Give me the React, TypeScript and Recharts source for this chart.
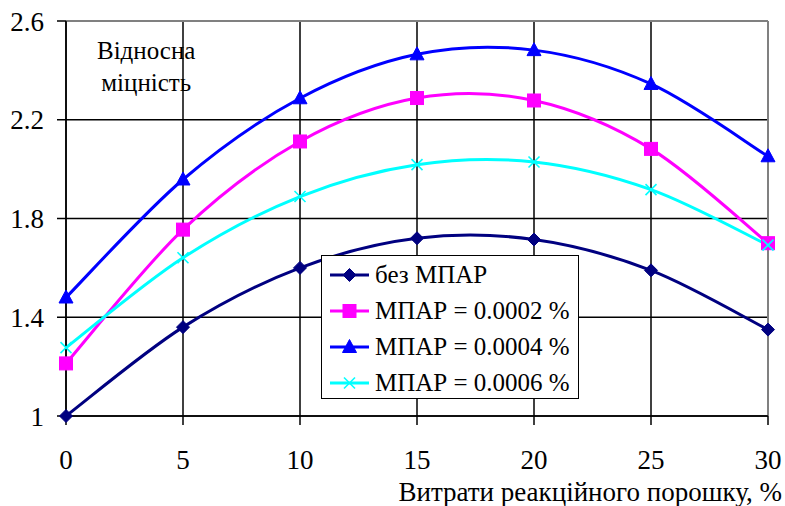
import React from 'react';
import { LineChart, Line, XAxis, YAxis, CartesianGrid, ReferenceLine, Legend } from 'recharts';

const xValues = [0, 5, 10, 15, 20, 25, 30];
const bezMpar = [1.0, 1.36, 1.6, 1.72, 1.715, 1.59, 1.35];
const mpar2 = [1.213, 1.755, 2.112, 2.288, 2.278, 2.082, 1.7];
const mpar4 = [1.48, 1.958, 2.287, 2.465, 2.482, 2.345, 2.052];
const mpar6 = [1.277, 1.641, 1.889, 2.018, 2.029, 1.917, 1.692];
const xTicks = [0, 5, 10, 15, 20, 25, 30];
const yTicks = [1, 1.4, 1.8, 2.2, 2.6];

const seriesNames = ['без МПАР', 'МПАР = 0.0002 %', 'МПАР = 0.0004 %', 'МПАР = 0.0006 %'];
const seriesColors = ['#000080', '#FF00FF', '#0000FF', '#00FFFF'];
const seriesShapes = ['diamond', 'square', 'triangle', 'cross'];

const data = xValues.map((x, i) => ({
  x,
  s0: bezMpar[i],
  s1: mpar2[i],
  s2: mpar4[i],
  s3: mpar6[i],
}));

const FONT = "'Liberation Serif', 'Tinos', 'Times New Roman', Times, 'DejaVu Serif', serif";

// Excel-like smoothed line (Catmull-Rom / Bezier with 1/6 tangents)
function excelCurve(context: any) {
  let xs: number[] = [];
  let ys: number[] = [];
  return {
    areaStart() {},
    areaEnd() {},
    lineStart() {
      xs = [];
      ys = [];
    },
    point(x: number, y: number) {
      xs.push(+x);
      ys.push(+y);
    },
    lineEnd() {
      const n = xs.length;
      if (n === 0) return;
      context.moveTo(xs[0], ys[0]);
      if (n === 1) return;
      for (let i = 0; i < n - 1; i++) {
        const i0 = Math.max(0, i - 1);
        const i3 = Math.min(n - 1, i + 2);
        const c1x = xs[i] + (xs[i + 1] - xs[i0]) / 6;
        const c1y = ys[i] + (ys[i + 1] - ys[i0]) / 6;
        const c2x = xs[i + 1] - (xs[i3] - xs[i]) / 6;
        const c2y = ys[i + 1] - (ys[i3] - ys[i]) / 6;
        context.bezierCurveTo(c1x, c1y, c2x, c2y, xs[i + 1], ys[i + 1]);
      }
    },
  };
}

function Marker({ shape, cx, cy, color }: { shape: string; cx: number; cy: number; color: string }) {
  if (shape === 'diamond') {
    const r = 6.5;
    return <polygon points={`${cx},${cy - r} ${cx + r},${cy} ${cx},${cy + r} ${cx - r},${cy}`} fill={color} stroke={color} strokeWidth={1} />;
  }
  if (shape === 'square') {
    const r = 6.5;
    return <rect x={cx - r} y={cy - r} width={2 * r} height={2 * r} fill={color} stroke={color} strokeWidth={1} />;
  }
  if (shape === 'triangle') {
    return <polygon points={`${cx},${cy - 7.5} ${cx + 7},${cy + 5.5} ${cx - 7},${cy + 5.5}`} fill={color} stroke={color} strokeWidth={1} />;
  }
  const r = 5.5;
  return (
    <g stroke={color} strokeWidth={1.6}>
      <line x1={cx - r} y1={cy - r} x2={cx + r} y2={cy + r} />
      <line x1={cx - r} y1={cy + r} x2={cx + r} y2={cy - r} />
    </g>
  );
}

const makeDot = (idx: number) => (props: any) => {
  const { cx, cy, index } = props;
  if (cx == null || cy == null) return <g key={`d${idx}-${index}`} />;
  return (
    <g key={`d${idx}-${index}`}>
      <Marker shape={seriesShapes[idx]} cx={cx} cy={cy} color={seriesColors[idx]} />
    </g>
  );
};

const LegendContent = () => (
  <div
    style={{
      width: 258,
      height: 144,
      border: '1.5px solid #000',
      background: '#fff',
      boxSizing: 'border-box',
      fontFamily: FONT,
      fontSize: 25,
      color: '#000',
      paddingTop: 1,
    }}
  >
    {seriesNames.map((name, i) => (
      <div key={name} style={{ display: 'flex', alignItems: 'center', height: 36, whiteSpace: 'nowrap' }}>
        <svg width={50} height={20} style={{ marginLeft: 6, flex: 'none' }}>
          <line x1={2} y1={10} x2={41} y2={10} stroke={seriesColors[i]} strokeWidth={3} />
          <Marker shape={seriesShapes[i]} cx={21.5} cy={10} color={seriesColors[i]} />
        </svg>
        <span style={{ marginLeft: -3, lineHeight: '36px' }}>{name}</span>
      </div>
    ))}
  </div>
);

export default function App() {
  return (
    <div style={{ position: 'absolute', left: 0, top: 0, width: 785, height: 506, background: '#fff', fontFamily: FONT }}>
      <LineChart
        width={785}
        height={506}
        data={data}
        margin={{ top: 21, right: 17, bottom: 30, left: 0 }}
      >
        <CartesianGrid stroke="#000" strokeWidth={1.5} horizontal vertical />
        <XAxis
          dataKey="x"
          type="number"
          domain={[0, 30]}
          ticks={xTicks}
          interval={0}
          height={60}
          axisLine={{ stroke: '#000', strokeWidth: 1.5 }}
          tickLine={{ stroke: '#000', strokeWidth: 1.5 }}
          tickSize={9}
          tickMargin={25}
          tick={{ fill: '#000', fontSize: 27, fontFamily: FONT }}
        />
        <YAxis
          type="number"
          domain={[1, 2.6]}
          ticks={yTicks}
          interval={0}
          width={66}
          axisLine={{ stroke: '#000', strokeWidth: 1.5 }}
          tickLine={{ stroke: '#000', strokeWidth: 1.5 }}
          tickSize={9}
          tickMargin={13}
          tick={{ fill: '#000', fontSize: 27, fontFamily: FONT }}
        />
        <ReferenceLine y={2.6} stroke="#808080" strokeWidth={2} />
        <ReferenceLine x={30} stroke="#808080" strokeWidth={2} />
        {[0, 1, 2, 3].map((i) => (
          <Line
            key={i}
            dataKey={`s${i}`}
            name={seriesNames[i]}
            type={excelCurve as any}
            stroke={seriesColors[i]}
            strokeWidth={3}
            dot={makeDot(i)}
            activeDot={false}
            isAnimationActive={false}
          />
        ))}
        <Legend
          layout="vertical"
          align="center"
          verticalAlign="middle"
          content={LegendContent}
          wrapperStyle={{ position: 'absolute', left: 321, top: 255, width: 258, height: 144 }}
        />
      </LineChart>
      <div
        style={{
          position: 'absolute',
          left: 97,
          top: 35,
          fontSize: 25,
          lineHeight: '32px',
          color: '#000',
          textAlign: 'center',
          whiteSpace: 'nowrap',
        }}
      >
        Відносна
        <br />
        міцність
      </div>
      <div
        style={{
          position: 'absolute',
          right: 3,
          top: 476,
          fontSize: 27,
          lineHeight: '32px',
          color: '#000',
          whiteSpace: 'nowrap',
        }}
      >
        Витрати реакційного порошку, %
      </div>
    </div>
  );
}
